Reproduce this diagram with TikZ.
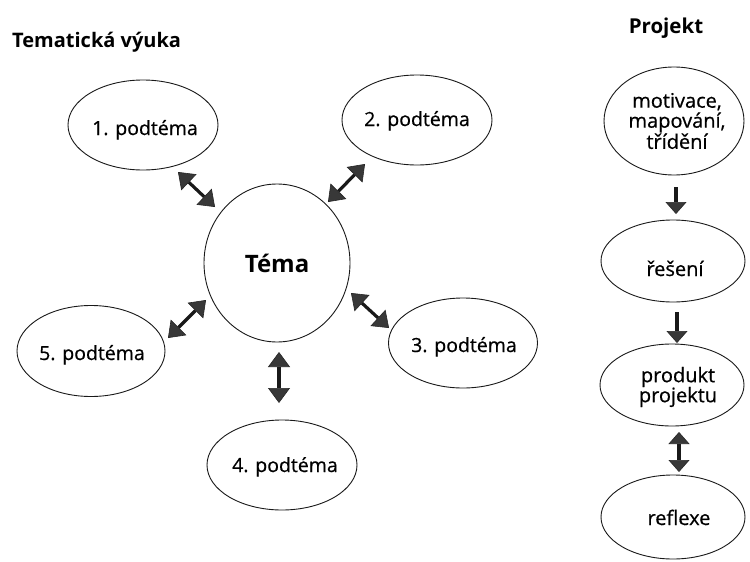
\documentclass[tikz,border=0pt]{standalone}
\usepackage{fontspec}
\setmainfont{Open Sans}
\newfontfamily\lblfont[FakeBold=0.6]{Open Sans}
\usetikzlibrary{arrows.meta,shapes.geometric}
\tikzset{
  headtip/.tip={Triangle[width=22pt,length=15pt,fill=black!78,color=black!85,line width=0.6pt]},
  rtip/.tip={Triangle[width=21pt,length=12pt,fill=black!78,color=black!85,line width=0.6pt]},
}
\begin{document}
\begin{tikzpicture}[x=1pt,y=-1pt,
  bub/.style={draw=black!90, ellipse, line width=0.9pt, inner sep=0pt},
  lbl/.style={font=\lblfont\fontsize{19.5}{20}\selectfont, inner sep=0pt, anchor=base},
  rlbl/.style={font=\lblfont\fontsize{20}{20}\selectfont, inner sep=0pt, align=center},
  ttl/.style={font=\fontsize{20}{22}\selectfont\bfseries, inner sep=0pt, anchor=base},
  dbl/.style={line width=3.2pt, draw=black!90, {headtip}-{headtip}},
  one/.style={line width=3.2pt, draw=black!90, -{rtip}},
  rdbl/.style={line width=3.2pt, draw=black!90, {rtip}-{rtip}},
]
\useasboundingbox[fill=white] (0,0) rectangle (750,562);

% titles
\node[ttl, anchor=base west] (ttlA) at (12,47) {Tematická výuka};
\node[ttl, font=\fontsize{20.5}{22}\selectfont\bfseries] (ttlB) at (666,33) {Projekt};

% left part
\node[bub, minimum width=146pt, minimum height=158pt] (tema) at (277,263) {};
\node[font=\fontsize{24}{24}\selectfont\bfseries, inner sep=0pt, anchor=base] (temal) at (277,272) {Téma};

\node[bub, minimum width=150pt, minimum height=90pt] (t1) at (143,125) {};
\node[lbl] (t1l) at (145,135) {1. podtéma};
\node[bub, minimum width=150pt, minimum height=90pt] (t2) at (417,120) {};
\node[lbl] (t2l) at (417,126) {2. podtéma};
\node[bub, minimum width=149pt, minimum height=90pt] (t3) at (463,343) {};
\node[lbl] (t3l) at (464,352) {3. podtéma};
\node[bub, minimum width=150pt, minimum height=90pt] (t4) at (282,465) {};
\node[lbl] (t4l) at (285,472) {4. podtéma};
\node[bub, minimum width=148pt, minimum height=91pt] (t5) at (91,351) {};
\node[lbl] (t5l) at (92,360) {5. podtéma};

\coordinate (a1s) at (178,172); \coordinate (a1e) at (215,207);
\coordinate (a2s) at (328,202); \coordinate (a2e) at (365,164);
\coordinate (a3s) at (351,293); \coordinate (a3e) at (389,328);
\coordinate (a4s) at (279,352); \coordinate (a4e) at (279,403);
\coordinate (a5s) at (168,338); \coordinate (a5e) at (206,300);
\draw[dbl] (a1s) -- (a1e);
\draw[dbl] (a2s) -- (a2e);
\draw[dbl] (a3s) -- (a3e);
\draw[dbl] (a4s) -- (a4e);
\draw[dbl] (a5s) -- (a5e);

% right part
\node[bub, minimum width=140pt, minimum height=108pt] (mot) at (674,121) {};
\node[rlbl] (motl) at (677,121) {motivace,\\mapování,\\třídění};
\node[bub, minimum width=144pt, minimum height=82pt] (res) at (673,261) {};
\node[rlbl, anchor=base] (resl) at (675,276) {řešení};
\node[bub, minimum width=144pt, minimum height=82pt] (pro) at (672,385) {};
\node[rlbl] (prol) at (678,387) {produkt\\projektu};
\node[bub, minimum width=144pt, minimum height=84pt] (ref) at (673,517) {};
\node[rlbl, anchor=base] (refl) at (679,525) {reflexe};

\coordinate (b1s) at (676,187); \coordinate (b1e) at (676,214);
\coordinate (b2s) at (677,312); \coordinate (b2e) at (677,343);
\coordinate (b3s) at (679,432); \coordinate (b3e) at (679,472);
\draw[one] (b1s) -- (b1e);
\draw[one] (b2s) -- (b2e);
\draw[rdbl] (b3s) -- (b3e);
\end{tikzpicture}
\end{document}
